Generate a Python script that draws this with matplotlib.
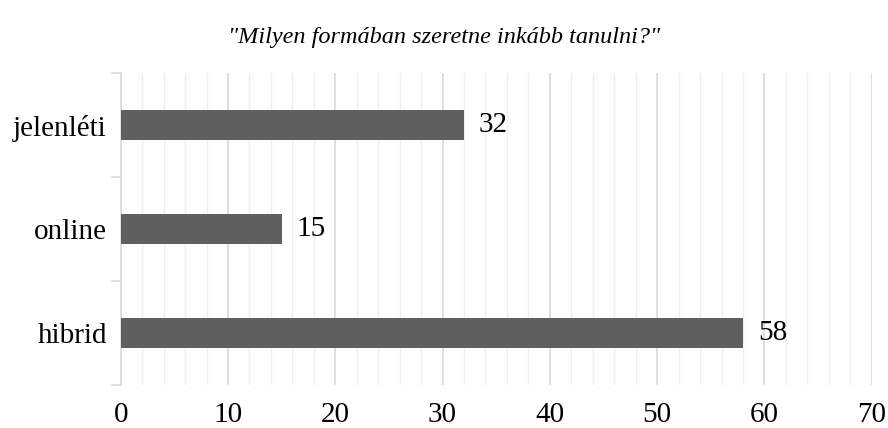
import matplotlib.pyplot as plt
from matplotlib.ticker import MultipleLocator, NullFormatter

# Data
categories = ['hibrid', 'online', 'jelenléti']
values = [58, 15, 32]
title = '"Milyen formában szeretne inkább tanulni?"'

plt.rcParams['font.family'] = ['Liberation Serif', 'DejaVu Serif']

fig = plt.figure(figsize=(8.88, 4.28), dpi=100)
ax = fig.add_axes([120.7 / 888, (428 - 385) / 428, 751 / 888, (385 - 73) / 428])

pos = list(range(len(categories)))
ax.barh(pos, values, height=0.28, color='#5f5f5f', zorder=3)
for p, v in zip(pos, values):
    ax.text(v + 1.4, p, str(v), va='center', ha='left', fontsize=21)

ax.set_xlim(0, 70)
ax.set_ylim(-0.5, len(categories) - 0.5)
ax.xaxis.set_major_locator(MultipleLocator(10))
ax.xaxis.set_minor_locator(MultipleLocator(2))
ax.grid(True, axis='x', which='major', color='#d9d9d9', linewidth=1.2, zorder=0)
ax.grid(True, axis='x', which='minor', color='#efefef', linewidth=1.0, zorder=0)
ax.tick_params(axis='x', which='both', length=0, labelsize=21, pad=12)

ax.set_yticks(pos)
ax.set_yticklabels(categories)
ax.set_yticks([p - 0.5 for p in pos] + [len(categories) - 0.5], minor=True)
ax.yaxis.set_minor_formatter(NullFormatter())
ax.tick_params(axis='y', which='major', length=0, labelsize=21, pad=10)
ax.tick_params(axis='y', which='minor', length=7, color='#d9d9d9', width=1.2)

for s in ['top', 'right', 'bottom']:
    ax.spines[s].set_visible(False)
ax.spines['left'].set_color('#d9d9d9')
ax.spines['left'].set_linewidth(1.2)

fig.text(0.5, 1 - 37 / 428, title, ha='center', va='center', fontsize=17.5, style='italic')

plt.savefig('out.png', dpi=100)
